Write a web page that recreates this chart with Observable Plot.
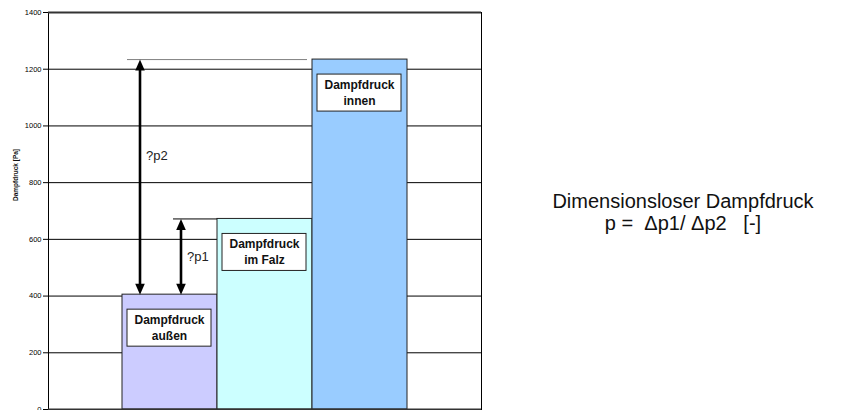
<!DOCTYPE html>
<html><head><meta charset="utf-8">
<script src="https://cdn.jsdelivr.net/npm/d3@7"></script>
<script src="https://cdn.jsdelivr.net/npm/@observablehq/plot@0.6"></script>
<style>
body{margin:0;background:#fff;font-family:"Liberation Sans",Arial,sans-serif}
#wrap{position:relative;width:842px;height:410px;overflow:hidden}
#note{position:absolute;left:683px;top:190px;transform:translateX(-50%);text-align:center;font-size:20px;line-height:22px;white-space:pre;color:#111}
</style></head>
<body>
<div id="wrap"><div id="chart"></div><div id="note"></div></div>
<script>
const categories = ["Dampfdruck\naußen", "Dampfdruck\nim Falz", "Dampfdruck\ninnen"];
const values = [405, 672, 1234];
const yTicks = [0, 200, 400, 600, 800, 1000, 1200, 1400];
const yLabel = "Dampfdruck [Pa]";
const noteLines = ["Dimensionsloser Dampfdruck", "p =  \u0394p1/ \u0394p2   [-]"];
const deltaP2 = {label: "?p2", from: values[0], to: values[2]};
const deltaP1 = {label: "?p1", from: values[0], to: values[1]};

const data = categories.map((c, i) => ({cat: c, value: values[i]}));

const upHead = {draw(ctx) { ctx.moveTo(0, 0); ctx.lineTo(4.8, 11); ctx.lineTo(-4.8, 11); ctx.closePath(); }};
const downHead = {draw(ctx) { ctx.moveTo(0, 0); ctx.lineTo(4.8, -11); ctx.lineTo(-4.8, -11); ctx.closePath(); }};

function arrowMarks(d, dx, labelDy) {
  const first = () => categories[0];
  return [
    Plot.ruleX([d], {x: first, y1: "to", y2: "from", dx, stroke: "#000", strokeWidth: 2.6, insetTop: 8, insetBottom: 8}),
    Plot.dot([d], {x: first, y: "to", dx, symbol: upHead, fill: "#000", stroke: "none", r: 5}),
    Plot.dot([d], {x: first, y: "from", dx, symbol: downHead, fill: "#000", stroke: "none", r: 5}),
    Plot.text([d], {x: first, y: (p) => (p.from + p.to) / 2, text: "label", dx: dx + 6, dy: labelDy, textAnchor: "start", fontSize: 13, fill: "#222"})
  ];
}

const chart = Plot.plot({
  width: 842, height: 410,
  marginLeft: 48, marginRight: 361, marginTop: 12, marginBottom: 1,
  style: {fontFamily: "'Liberation Sans', Arial, sans-serif", background: "white", color: "#000"},
  x: {domain: categories, paddingInner: 0, paddingOuter: 0.76, axis: null},
  y: {domain: [0, 1400], axis: null},
  color: {domain: categories, range: ["#CCCCFF", "#CCFFFF", "#99CCFF"]},
  marks: [
    Plot.ruleY(yTicks.filter((t) => t > 0 && t < 1400), {stroke: "#000", strokeWidth: 1}),
    Plot.barY(data, {x: "cat", y: "value", fill: "cat", stroke: "#222", strokeWidth: 1}),
    Plot.ruleY([values[2]], {x1: () => categories[0], x2: () => categories[1], insetLeft: 5, insetRight: 5, stroke: "#808080", strokeWidth: 1}),
    Plot.ruleY([values[1]], {x1: () => categories[0], x2: () => categories[0], insetLeft: 51, stroke: "#000", strokeWidth: 1}),
    ...arrowMarks(deltaP2, -30, -21),
    ...arrowMarks(deltaP1, 11, 0),
    Plot.barY(data, {x: "cat", y1: "value", y2: "value", fill: "white", stroke: "#222", strokeWidth: 1, insetTop: 15, insetBottom: -52, insetLeft: 5, insetRight: 6}),
    Plot.text(data, {x: "cat", y: "value", text: "cat", dx: -0.5, dy: 32, fontWeight: "bold", fontSize: 12, lineHeight: 1.33, fill: "#111"}),
    Plot.frame({stroke: "#000", strokeWidth: 1}),
    Plot.ruleY([0, 1400], {stroke: "#333", strokeWidth: 2}),
    Plot.axisY({ticks: yTicks, tickSize: 5, tickPadding: 2, fontSize: 7.5, label: null, stroke: "#000", tickFormat: (d) => String(d)}),
    Plot.text([yLabel], {frameAnchor: "left", rotate: -90, dx: -33, dy: -10, fontWeight: "bold", fontSize: 6.5, fill: "#111"})
  ]
});
document.getElementById("chart").appendChild(chart);
document.getElementById("note").textContent = noteLines.join("\n");
</script>
</body></html>
